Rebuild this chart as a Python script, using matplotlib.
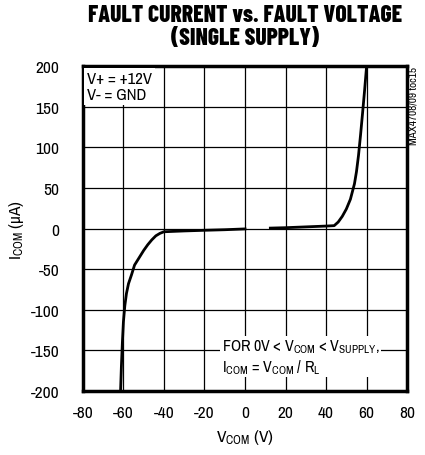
import matplotlib
matplotlib.use('Agg')
import matplotlib.pyplot as plt

# fault voltage (V) vs fault current (uA)
neg_v = [-61.4, -61.0, -60.5, -60.0, -59.3, -58.5, -57.5, -56.0, -54.5, -52.0,
         -50.0, -48.0, -46.0, -44.0, -42.0, -40.0, -35.0, -30.0, -20.0, -10.0, 0.0]
neg_i = [-200, -170, -140, -115, -95, -80, -68, -57, -45, -35,
         -27, -20, -14, -9, -6, -4, -3.5, -3, -2.2, -1.5, -0.5]

pos_v = [12.5, 20, 30, 40, 44, 46, 48, 50, 52, 54, 55, 56, 57, 58, 59, 60]
pos_i = [0.5, 1, 2, 3, 3.5, 8, 15, 24, 36, 55, 70, 90, 115, 142, 170, 200]

x_ticks = [-80, -60, -40, -20, 0, 20, 40, 60, 80]
y_ticks = [-200, -150, -100, -50, 0, 50, 100, 150, 200]

plt.rcParams['font.family'] = ['Archivo Narrow', 'DejaVu Sans']
plt.rcParams['mathtext.fontset'] = 'custom'
plt.rcParams['mathtext.rm'] = 'Archivo Narrow'
plt.rcParams['mathtext.it'] = 'Archivo Narrow'
plt.rcParams['axes.unicode_minus'] = False


def main():
    fig = plt.figure(figsize=(4.25, 4.56), dpi=100)
    ax = fig.add_axes([0.195, 0.1404, 0.763, 0.7126])

    ax.plot(neg_v, neg_i, color='black', lw=2.0, zorder=3)
    ax.plot(pos_v, pos_i, color='black', lw=2.0, zorder=3)

    ax.set_xlim(-80, 80)
    ax.set_ylim(-200, 200)
    ax.set_xticks(x_ticks)
    ax.set_yticks(y_ticks)
    ax.grid(True, color='black', lw=0.9)
    ax.tick_params(length=0, labelsize=12.5, pad=10)
    ax.tick_params(axis='y', pad=17)
    for s in ax.spines.values():
        s.set_linewidth(2.5)

    ax.set_xlabel(r'$\mathrm{V_{COM}}$ (V)', fontsize=12.5)
    ax.set_ylabel(r'$\mathrm{I_{COM}}$ ($\mathrm{\mu}$A)', fontsize=12.5)
    ax.xaxis.set_label_coords(0.5, -0.112)
    ax.yaxis.set_label_coords(-0.176, 0.5)

    # title
    tfont = ['Barlow Condensed', 'DejaVu Sans']
    fig.text(0.577, 0.964, 'FAULT CURRENT vs. FAULT VOLTAGE', ha='center', va='center',
             fontsize=17, fontweight=800, family=tfont)
    fig.text(0.577, 0.914, '(SINGLE SUPPLY)', ha='center', va='center',
             fontsize=17, fontweight=800, family=tfont)

    # notes on the plot
    ax.text(-78, 194, 'V+ = +12V\nV- = GND', ha='left', va='top', fontsize=12,
            linespacing=1.1, zorder=4,
            bbox=dict(facecolor='white', edgecolor='none', pad=2))
    ax.text(-11.5, -134, 'FOR 0V < $\\mathrm{V_{COM}}$ < $\\mathrm{V_{SUPPLY}}$,\n'
            '$\\mathrm{I_{COM}}$ = $\\mathrm{V_{COM}}$ / $\\mathrm{R_L}$',
            ha='left', va='top', fontsize=11.5, linespacing=1.15, zorder=4,
            bbox=dict(facecolor='white', edgecolor='none', pad=1))

    fig.text(0.974, 0.853, 'MAX4708/09 toc15', rotation=90, ha='center', va='top',
             fontsize=8)

    fig.savefig('out.png', dpi=100)


if __name__ == '__main__':
    main()
